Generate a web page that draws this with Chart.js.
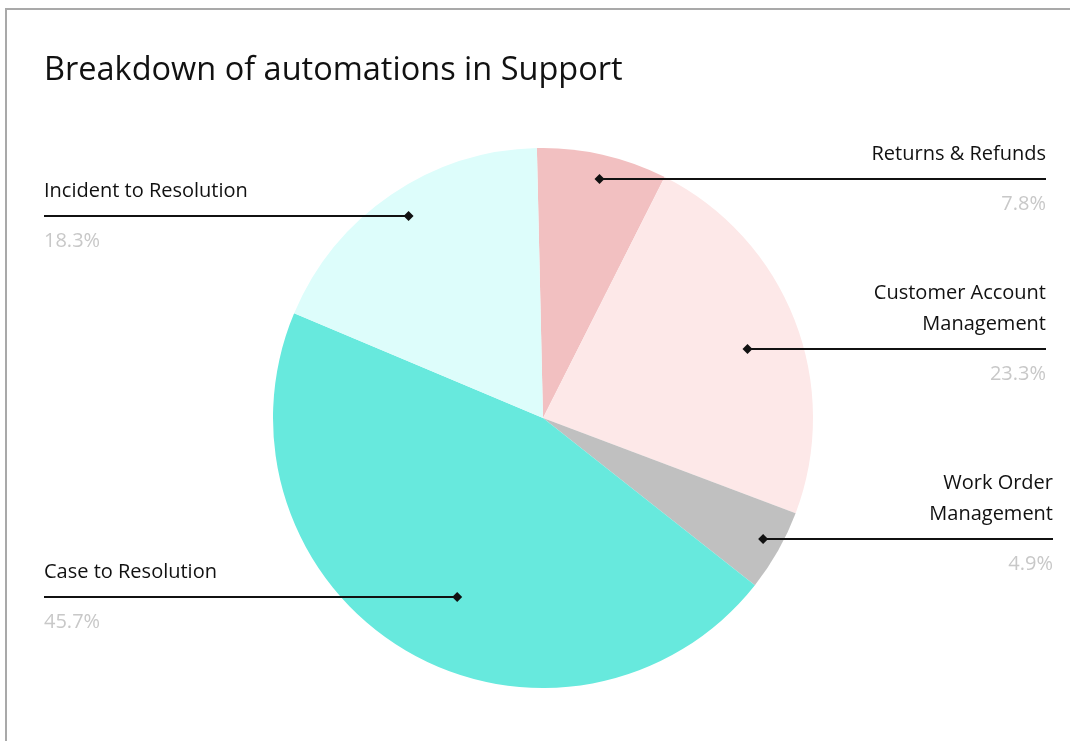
<!DOCTYPE html>
<html>
<head>
<meta charset="utf-8">
<title>Breakdown of automations in Support</title>
<script src="https://cdn.jsdelivr.net/npm/chart.js@4.4.1/dist/chart.umd.min.js"></script>
<style>
    html, body { margin: 0; padding: 0; background: #fff; }
    body { width: 1070px; height: 741px; overflow: hidden; position: relative; }
    .frame {
        position: absolute; left: 5px; top: 8px; width: 1200px; height: 900px;
        border-left: 2px solid #a9a9a9; border-top: 2px solid #a9a9a9;
    }
    .chart-box { position: absolute; left: 0; top: 0; width: 1070px; height: 741px; }
</style>
</head>
<body>
<div class="frame"></div>
<div class="chart-box"><canvas id="supportAutomationPie"></canvas></div>
<script>
// Slices go clockwise from the top
const categories = [
    ["Returns & Refunds"],
    ["Customer Account", "Management"],
    ["Work Order", "Management"],
    ["Case to Resolution"],
    ["Incident to Resolution"],
];
const shares = [7.8, 23.3, 4.9, 45.7, 18.3];
const sliceColors = ["#f2c0c1", "#fde8e8", "#c0c0c0", "#67e9dd", "#ddfdfb"];

const FONT = "'Open Sans', Lato, sans-serif";

// Callout: diamond inside the slice, horizontal rule to the label edge, name above, share below
const leaderLabels = {
    id: "leaderLabels",
    afterDatasetsDraw(chart, args, opts) {
        const { ctx } = chart;
        const arcs = chart.getDatasetMeta(0).data;
        arcs.forEach((arc, i) => {
            const a = opts.anchors[i];
            const { x, y, startAngle, endAngle, outerRadius } =
                arc.getProps(["x", "y", "startAngle", "endAngle", "outerRadius"], true);
            const ang = startAngle + (endAngle - startAngle) * a.along;
            const px = x + Math.cos(ang) * outerRadius * a.radius;
            const py = Math.round(y + Math.sin(ang) * outerRadius * a.radius);
            const onLeft = a.side === "left";
            const edge = onLeft ? opts.leftX : (a.edge || opts.rightX);

            ctx.save();
            ctx.strokeStyle = "#111";
            ctx.lineWidth = 2;
            ctx.beginPath();
            ctx.moveTo(edge, py);
            ctx.lineTo(px, py);
            ctx.stroke();

            ctx.fillStyle = "#111";
            ctx.beginPath();
            ctx.moveTo(px - 5, py);
            ctx.lineTo(px, py - 5);
            ctx.lineTo(px + 5, py);
            ctx.lineTo(px, py + 5);
            ctx.closePath();
            ctx.fill();

            ctx.font = "20px " + FONT;
            ctx.textAlign = onLeft ? "left" : "right";
            ctx.textBaseline = "alphabetic";
            const lines = categories[i];
            lines.forEach((t, k) => {
                ctx.fillText(t, edge, py - 19 - (lines.length - 1 - k) * 31);
            });
            ctx.fillStyle = "#c8c8c8";
            ctx.fillText(shares[i].toFixed(1) + "%", edge, py + 31);
            ctx.restore();
        });
    },
};

const ctx = document.getElementById("supportAutomationPie").getContext("2d");
new Chart(ctx, {
    type: "pie",
    data: {
        labels: categories.map((l) => l.join(" ")),
        datasets: [
            {
                data: shares,
                backgroundColor: sliceColors,
                borderWidth: 0,
            },
        ],
    },
    options: {
        responsive: true,
        maintainAspectRatio: false,
        animation: false,
        rotation: -1.3,
        layout: { padding: { top: 0, bottom: 53, left: 44, right: 28 } },
        plugins: {
            legend: { display: false },
            tooltip: { enabled: false },
            title: {
                display: true,
                text: "Breakdown of automations in Support",
                align: "start",
                color: "#111",
                font: { family: FONT, size: 32.5, weight: "normal" },
                padding: { top: 51, bottom: 58 },
            },
            leaderLabels: {
                leftX: 44,
                rightX: 1046,
                anchors: [
                    { along: 0.52, radius: 0.91, side: "right" },
                    { along: 0.53, radius: 0.80, side: "right" },
                    { along: 0.46, radius: 0.93, side: "right", edge: 1053 },
                    { along: 0.47, radius: 0.735, side: "left" },
                    { along: 0.51, radius: 0.90, side: "left" },
                ],
            },
        },
    },
    plugins: [leaderLabels],
});
</script>
</body>
</html>
